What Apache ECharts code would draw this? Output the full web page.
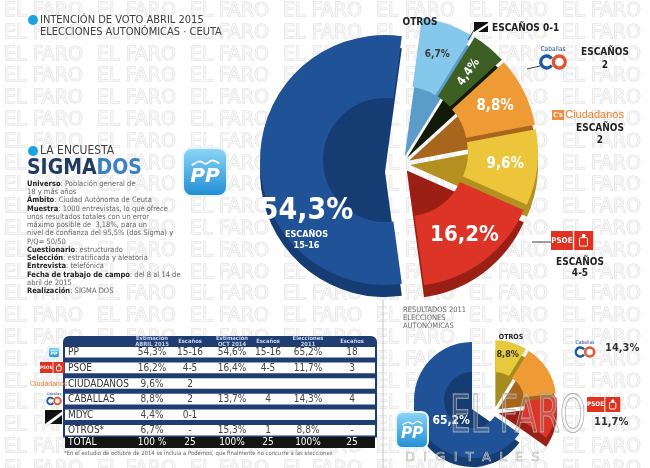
<!DOCTYPE html>
<html>
<head>
<meta charset="utf-8">
<script src="https://cdn.jsdelivr.net/npm/echarts@6/dist/echarts.min.js"></script>
<style>
  html, body { margin: 0; padding: 0; background: #fff; }
  #chart { width: 650px; height: 468px; }
</style>
</head>
<body>
<div id="chart"></div>
<script>
// --- data ---
const parties2015 = ['OTROS', 'MDYC', 'CABALLAS', 'CIUDADANOS', 'PSOE', 'PP']
const votes2015 = [6.7, 4.4, 8.8, 9.6, 16.2, 54.3]
const seats2015 = ['-', '0-1', '2', '2', '4-5', '15-16']

const parties2011 = ['OTROS', 'CABALLAS', 'PSOE', 'PP']
const votes2011 = [8.8, 14.3, 11.7, 65.2]

const tableRows = ['PP', 'PSOE', 'CIUDADANOS', 'CABALLAS', 'MDYC', 'OTROS*']
const tableHeads = ['Estimación\nABRIL 2015', 'Escaños', 'Estimación\nOCT 2014', 'Escaños', 'Elecciones\n2011', 'Escaños']
const estApr2015 = ['54,3%', '16,2%', '9,6%', '8,8%', '4,4%', '6,7%']
const seatsApr2015 = ['15-16', '4-5', '2', '2', '0-1', '-']
const estOct2014 = ['54,6%', '16,4%', '', '13,7%', '', '15,3%']
const seatsOct2014 = ['15-16', '4-5', '', '4', '', '1']
const res2011 = ['65,2%', '11,7%', '', '14,3%', '', '8,8%']
const seatsRes2011 = ['18', '3', '', '4', '', '-']
const tableTotal = ['100 %', '25', '100%', '25', '100%', '25']

const surveyLines = [
  ['Universo', ': Población general de'],
  ['', '18 y más años'],
  ['Ámbito', ': Ciudad Autónoma de Ceuta'],
  ['Muestra', ': 1000 entrevistas, lo que ofrece'],
  ['', 'unos resultados totales con un error'],
  ['', 'máximo posible de  3,18%, para un'],
  ['', 'nivel de confianza del 95,5% (dos Sigma) y'],
  ['', 'P/Q= 50/50'],
  ['Cuestionario', ': estructurado'],
  ['Selección', ': estratificada y aleatoria'],
  ['Entrevista', ': telefónica'],
  ['Fecha de trabajo de campo', ': del 8 al 14 de'],
  ['', 'abril de 2015'],
  ['Realización', ': SIGMA DOS']
]

// --- styles: [top face, side] ---
const colors2015 = {
  PP: ['#1f5297', '#163d73'],
  PSOE: ['#dc3427', '#9c1f16'],
  CIUDADANOS: ['#ecc53b', '#b3901f'],
  CABALLAS: ['#ee9a35', '#a8661d'],
  MDYC: ['#3e5f23', '#121b0a'],
  OTROS: ['#86c7ec', '#5b9cc8']
}
const colors2011 = {
  PP: ['#1f5297', '#163d73'],
  PSOE: ['#dc3427', '#9c1f16'],
  CABALLAS: ['#ee9a35', '#a8661d'],
  OTROS: ['#e6c93c', '#a48c1e']
}

const COND = '"DejaVu Sans Condensed", "DejaVu Sans", sans-serif'
const pct = v => v.toFixed(1).replace('.', ',') + '%'

// pie drawn as a side layer (shifted down) plus a top face
function pieLayers(o){
  const layer = top => ({
    type: 'pie',
    z: top ? 4 : 2,
    center: top ? o.center : [o.center[0], o.center[1] + o.depth],
    radius: top ? o.radius : [0, o.radius[1]],
    startAngle: o.startAngle,
    clockwise: true,
    selectedMode: 'multiple',
    selectedOffset: o.offset,
    avoidLabelOverlap: false,
    animation: false,
    silent: true,
    emphasis: { disabled: true },
    labelLine: { show: false },
    data: o.names.map((n, i) => {
      const vis = o.visible(n)
      const item = {
        name: n,
        value: o.values[i],
        selected: vis && o.offset > 0,
        itemStyle: { color: vis ? o.colors[n][top ? 0 : 1] : 'rgba(0,0,0,0)' },
        label: { show: false }
      }
      if( top && vis && o.labels[n] )
        item.label = Object.assign({ show: true, position: 'inside', fontFamily: COND, fontWeight: 'bold' }, o.labels[n](o.values[i], i))
      return item
    })
  })
  return [layer(false), layer(true)]
}

const ppShare = votes2015[parties2015.indexOf('PP')]
const mainStart = 90 - (ppShare * 3.6 - 180) / 2

const labels2015 = {
  PP: (v, i) => ({
    formatter: `{p|${pct(v)}}\n{e|ESCAÑOS}\n{e|${seats2015[i]}}`,
    padding: [124, 0, 0, 36],
    rich: {
      p: { fontSize: 30, fontWeight: 'bold', color: '#fff', fontFamily: COND, lineHeight: 36 },
      e: { fontSize: 9, fontWeight: 'bold', color: '#fff', fontFamily: COND, lineHeight: 11 }
    }
  }),
  OTROS: v => ({ formatter: pct(v), color: '#3a3a3a', fontSize: 10 }),
  MDYC: v => ({ formatter: pct(v), color: '#fff', fontSize: 12, rotate: 55 }),
  CABALLAS: v => ({ formatter: pct(v), color: '#fff', fontSize: 15 }),
  CIUDADANOS: v => ({ formatter: pct(v), color: '#fff', fontSize: 15 }),
  PSOE: v => ({ formatter: pct(v), color: '#fff', fontSize: 22 })
}
const labels2011 = {
  PP: v => ({ formatter: pct(v), color: '#fff', fontSize: 12, padding: [20, 0, 0, 40] }),
  OTROS: v => ({ formatter: pct(v), color: '#333', fontSize: 9, padding: [0, 0, 26, 0] })
}

const series = [
  ...pieLayers({ names: parties2015, values: votes2015, colors: colors2015, labels: labels2015,
    visible: n => n === 'PP', center: [385, 160], radius: [62, 125], startAngle: mainStart, offset: 0, depth: 12 }),
  ...pieLayers({ names: parties2015, values: votes2015, colors: colors2015, labels: labels2015,
    visible: n => n !== 'PP', center: [402, 152], radius: [58, 128], startAngle: mainStart, offset: 8, depth: 12 }),
  ...pieLayers({ names: parties2011, values: votes2011, colors: colors2011, labels: labels2011,
    visible: n => n === 'PP', center: [472, 400], radius: [28, 58], startAngle: 90, offset: 0, depth: 9 }),
  ...pieLayers({ names: parties2011, values: votes2011, colors: colors2011, labels: labels2011,
    visible: n => n !== 'PP', center: [494, 403], radius: [26, 58], startAngle: 90, offset: 5, depth: 9 })
]

// --- graphic helpers ---
const txt = (x, y, text, s = {}, z = 50) => ({
  type: 'text', x, y, z, silent: true,
  style: Object.assign({ text, fill: '#444', fontFamily: COND, fontSize: 10, textAlign: 'left', textVerticalAlign: 'middle' }, s)
})
const rect = (x, y, width, height, s = {}, r = 0, z = 40) => ({
  type: 'rect', z, silent: true, shape: { x, y, width, height, r }, style: s
})
const circ = (cx, cy, r, s, z = 50) => ({ type: 'circle', z, silent: true, shape: { cx, cy, r }, style: s })
const line = (x1, y1, x2, y2, stroke = '#555', lineWidth = 1, z = 45) => ({
  type: 'line', z, silent: true, shape: { x1, y1, x2, y2 }, style: { stroke, lineWidth }
})

const graphics = []

// background watermark
for( let row = 0; row < 22; row++ ){
  for( let col = 0; col < 8; col++ ){
    graphics.push(txt(4 + col * 93, 11 + row * 21.8, 'EL FARO', {
      fontFamily: '"DejaVu Sans", sans-serif', fontSize: 19,
      fill: '#f6f6f6', stroke: '#d9d9d9', lineWidth: 0.9
    }, 0))
  }
}

// logos
function ppLogo(x, y, w, h){
  return [
    { type: 'rect', z: 60, silent: true, shape: { x, y, width: w, height: h, r: w * 0.2 },
      style: { fill: new echarts.graphic.LinearGradient(0, 0, 0, 1, [{ offset: 0, color: '#8fd8f7' }, { offset: 1, color: '#1d8bd3' }]),
        stroke: '#e6f4fc', lineWidth: 2 } },
    { type: 'polyline', z: 61, silent: true,
      shape: { points: [[x + w * 0.2, y + h * 0.36], [x + w * 0.38, y + h * 0.28], [x + w * 0.52, y + h * 0.33], [x + w * 0.66, y + h * 0.26], [x + w * 0.82, y + h * 0.32]], smooth: 0.4 },
      style: { stroke: '#fff', lineWidth: Math.max(1, w / 25), fill: null } },
    txt(x + w / 2, y + h * 0.6, 'PP', { fill: '#fff', fontStyle: 'italic', fontWeight: 'bold', fontSize: h * 0.42, textAlign: 'center', fontFamily: '"DejaVu Sans", sans-serif' }, 61)
  ]
}
function psoeLogo(x, y, s){
  return [
    rect(x, y, s * 1.15, s, { fill: '#e0321f' }, 0, 60),
    rect(x + s * 1.22, y, s, s, { fill: '#e0321f' }, 0, 60),
    txt(x + s * 0.57, y + s / 2, 'PSOE', { fill: '#fff', fontSize: s * 0.42, fontWeight: 'bold', textAlign: 'center' }, 61),
    rect(x + s * 1.5, y + s * 0.35, s * 0.42, s * 0.45, { fill: 'none', stroke: '#fff', lineWidth: 1 }, 1, 61),
    circ(x + s * 1.72, y + s * 0.25, s * 0.1, { fill: '#fff' }, 61)
  ]
}
function caballasLogo(cx, cy, r){
  return [
    txt(cx, cy - r * 2.1, 'Caballas', { fontSize: r * 1.1, fill: '#1d4f8c', textAlign: 'center' }, 61),
    { type: 'arc', z: 60, silent: true, shape: { cx: cx - r * 1.05, cy, r, startAngle: 0.6, endAngle: Math.PI * 2 - 0.6 }, style: { stroke: '#1b5aa2', lineWidth: r * 0.55, fill: null } },
    { type: 'arc', z: 60, silent: true, shape: { cx: cx + r * 1.05, cy, r, startAngle: 0, endAngle: Math.PI * 2 }, style: { stroke: '#e5552b', lineWidth: r * 0.55, fill: null } }
  ]
}
function mdycLogo(x, y, w, h){
  return [
    rect(x, y, w, h, { fill: '#111' }, 0, 60),
    { type: 'polygon', z: 61, silent: true, shape: { points: [[x, y + h], [x + w, y + h * 0.1], [x + w, y + h * 0.35], [x + w * 0.3, y + h]] }, style: { fill: '#fff' } }
  ]
}
function ciudadanosLogo(x, y, fs){
  return [
    rect(x, y - fs * 0.45, fs * 1.1, fs * 0.9, { fill: '#f08a3c' }, 0, 60),
    txt(x + fs * 0.55, y, 'C\'s', { fill: '#fff', fontSize: fs * 0.6, fontWeight: 'bold', textAlign: 'center' }, 61),
    txt(x + fs * 1.2, y, 'Ciudadanos', { fill: '#f07f2c', fontSize: fs, fontFamily: '"Liberation Sans", Arial, sans-serif' }, 61)
  ]
}

// title
graphics.push(circ(33, 20, 5, { fill: '#19a3e3' }))
graphics.push(txt(40, 20, 'INTENCIÓN DE VOTO ABRIL 2015', { fontSize: 11, fill: '#404040' }))
graphics.push(txt(40, 32, 'ELECCIONES AUTONÓMICAS · CEUTA', { fontSize: 11, fill: '#404040' }))

// survey block
graphics.push(circ(33, 151, 5, { fill: '#19a3e3' }))
graphics.push(txt(40, 151, 'LA ENCUESTA', { fontSize: 12, fill: '#404040' }))
graphics.push(txt(27, 169, '{a|SIGMA}{b|DOS}', {
  rich: { a: { fill: '#1f3a63', fontSize: 21, fontWeight: 'bold', fontFamily: COND }, b: { fill: '#3b80c5', fontSize: 21, fontWeight: 'bold', fontFamily: COND } }
}))
surveyLines.forEach(([b, rest], i) => {
  graphics.push(txt(27, 184 + i * 8.25, (b ? `{b|${b}}` : '') + `{n|${rest}}`, {
    rich: { b: { fill: '#222', fontWeight: 'bold', fontSize: 7.5, fontFamily: COND }, n: { fill: '#666', fontSize: 7.5, fontFamily: COND } }
  }))
})

// main chart annotations
graphics.push(...ppLogo(183, 148, 44, 48))
graphics.push(txt(420, 22, 'OTROS', { fontSize: 10, fontWeight: 'bold', fill: '#222', textAlign: 'center' }))
graphics.push(...mdycLogo(474, 22, 14, 10))
graphics.push(line(474, 30, 468, 40, '#444'))
graphics.push(txt(492, 28, 'ESCAÑOS 0-1', { fontSize: 10, fontWeight: 'bold', fill: '#222' }))
graphics.push(...caballasLogo(553, 62, 6))
graphics.push(line(527, 69, 540, 66, '#444'))
graphics.push(txt(605, 52, 'ESCAÑOS', { fontSize: 10, fontWeight: 'bold', fill: '#222', textAlign: 'center' }))
graphics.push(txt(605, 65, seats2015[parties2015.indexOf('CABALLAS')], { fontSize: 10, fontWeight: 'bold', fill: '#222', textAlign: 'center' }))
graphics.push(...ciudadanosLogo(552, 115, 11))
graphics.push(txt(600, 128, 'ESCAÑOS', { fontSize: 10, fontWeight: 'bold', fill: '#222', textAlign: 'center' }))
graphics.push(txt(600, 140, seats2015[parties2015.indexOf('CIUDADANOS')], { fontSize: 10, fontWeight: 'bold', fill: '#222', textAlign: 'center' }))
graphics.push(...psoeLogo(551, 231, 19))
graphics.push(line(532, 242, 551, 242, '#444'))
graphics.push(txt(580, 262, 'ESCAÑOS', { fontSize: 10, fontWeight: 'bold', fill: '#222', textAlign: 'center' }))
graphics.push(txt(580, 273, seats2015[parties2015.indexOf('PSOE')], { fontSize: 10, fontWeight: 'bold', fill: '#222', textAlign: 'center' }))

// 2011 block
graphics.push(line(383, 300, 383, 468, '#c4c4c4'))
;['RESULTADOS 2011', 'ELECCIONES', 'AUTONÓMICAS'].forEach((t, i) => graphics.push(txt(403, 310 + i * 8, t, { fontSize: 7.5, fill: '#666' })))
graphics.push(txt(511, 337, 'OTROS', { fontSize: 7, fontWeight: 'bold', fill: '#222', textAlign: 'center' }))
graphics.push(...caballasLogo(585, 352, 4.5))
graphics.push(txt(605, 348, pct(votes2011[parties2011.indexOf('CABALLAS')]), { fontSize: 11, fontWeight: 'bold', fill: '#333' }))
graphics.push(...psoeLogo(587, 397, 15))
graphics.push(txt(594, 422, pct(votes2011[parties2011.indexOf('PSOE')]), { fontSize: 11, fontWeight: 'bold', fill: '#333' }))
graphics.push(...ppLogo(396, 412, 32, 36))
// big "EL FARO DIGITALES" overlay
graphics.push(Object.assign(txt(450, 418, 'EL FARO', { fontSize: 52, fontFamily: COND, fill: 'rgba(255,255,255,0.12)', stroke: '#a8a8a8', lineWidth: 1 }, 70), { scaleX: 0.7 }))
graphics.push(txt(405, 458, 'D  I  G  I  T  A  L  E  S', { fontSize: 13, fontFamily: '"DejaVu Sans", sans-serif', fill: 'rgba(255,255,255,0.1)', stroke: '#b8b8b8', lineWidth: 0.7 }, 70))

// table
const colX = [152, 190, 232, 268, 308, 352]
const rowTop = 347, rowPitch = 15.6, rowH = 10.6
graphics.push(rect(63, 336, 314, 101.5, { fill: '#1f3d70' }, [6, 6, 0, 0], 40))
tableHeads.forEach((h, c) => {
  graphics.push(txt(colX[c], 341.5, h, { fontSize: 5.8, fontWeight: 'bold', fill: '#c7d6ee', textAlign: 'center', lineHeight: 5.6 }, 45))
})
const tableCols = [estApr2015, seatsApr2015, estOct2014, seatsOct2014, res2011, seatsRes2011]
tableRows.forEach((name, r) => {
  const y = rowTop + r * rowPitch
  graphics.push(rect(65, y, 310, rowH, { fill: '#fdfdfd' }, 0, 42))
  graphics.push(txt(68, y + rowH / 2 + 0.5, name, { fontSize: 10, fill: '#333' }, 45))
  tableCols.forEach((col, c) => {
    if( col[r] ) graphics.push(txt(colX[c], y + rowH / 2 + 0.5, col[r], { fontSize: 10, fill: '#444', textAlign: 'center' }, 45))
  })
})
graphics.push(rect(65, 437, 310, 11, { fill: '#141414' }, 0, 42))
graphics.push(txt(68, 442.5, 'TOTAL', { fontSize: 10, fill: '#fff' }, 45))
tableTotal.forEach((t, c) => graphics.push(txt(colX[c], 442.5, t, { fontSize: 10, fill: '#fff', textAlign: 'center' }, 45)))
graphics.push(txt(64, 453, '*En el estudio de octubre de 2014 se incluía a Podemos, que finalmente no concurre a las elecciones', { fontSize: 5.9, fill: '#666' }, 45))

// table row logos
graphics.push(...ppLogo(48, 347, 12, 11))
graphics.push(...psoeLogo(40, 362, 11))
graphics.push(txt(30, 384, 'Ciudadanos', { fontSize: 7, fill: '#f07f2c', fontFamily: '"Liberation Sans", Arial, sans-serif' }, 61))
graphics.push(...caballasLogo(54, 401, 3.3))
graphics.push(...mdycLogo(45, 410, 17, 14))

const chart = echarts.init(document.getElementById('chart'), null, { renderer: 'canvas' })
chart.setOption({
  backgroundColor: '#fff',
  animation: false,
  series,
  graphic: { elements: graphics }
})
</script>
</body>
</html>
